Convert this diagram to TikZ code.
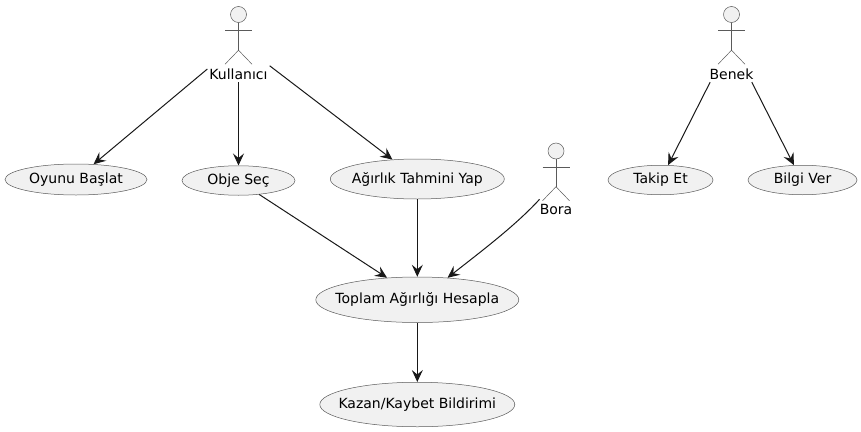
\documentclass[tikz,border=0pt]{standalone}
\usepackage{fontspec}
\setmainfont{DejaVu Sans}
\usetikzlibrary{shapes.geometric,arrows.meta}
\definecolor{fillc}{HTML}{F1F1F1}
\definecolor{linec}{HTML}{181818}
\definecolor{thinc}{HTML}{5A5A5A}
\tikzset{
  usecase/.style={ellipse,draw=thinc,fill=fillc,line width=0.5pt,inner xsep=-18pt,inner ysep=-3pt,font=\fontsize{14}{16}\selectfont,text=black},
  actorlabel/.style={inner sep=0pt,minimum height=16pt,font=\fontsize{14}{16}\selectfont,text=black,anchor=center},
  stick/.style={draw=thinc,line width=0.5pt},
  head/.style={circle,draw=thinc,fill=fillc,line width=0.5pt,minimum size=16pt,inner sep=0pt},
  flow/.style={draw=linec,line width=1pt,-{Stealth[length=12pt,width=11pt,inset=4.5pt]}}
}
\newcommand{\stickman}[3]{%
  \node[head] (#1h) at (#2,#3) {};
  \draw[stick] (#1h.south) -- ++(0,27.5) coordinate (#1hip);
  \draw[stick] ([xshift=-13.5pt,yshift=-7.5pt]#1h.south) -- ([xshift=13.5pt,yshift=-7.5pt]#1h.south);
  \draw[stick] ([xshift=-13.5pt,yshift=-14pt]#1hip) -- (#1hip) -- ([xshift=13.5pt,yshift=-14pt]#1hip);
}
\begin{document}
\begin{tikzpicture}[x=1pt,y=-1pt]
\useasboundingbox (0,0) rectangle (861,431);
\stickman{kul}{238.5}{14.5}
\stickman{bor}{556}{151}
\stickman{ben}{731.5}{14.5}
\node[actorlabel,minimum width=62pt] (kullanici) at (238.5,74) {Kullanıcı};
\node[actorlabel,minimum width=32pt,minimum height=20pt] (bora) at (556,209.5) {Bora};
\node[actorlabel,minimum width=44pt] (benek) at (731.5,74) {Benek};
\node[usecase,minimum width=142pt,minimum height=31pt] (oyun) at (76,179.5) {Oyunu Başlat};
\node[usecase,minimum width=113pt,minimum height=29.5pt] (obje) at (238.5,180.5) {Obje Seç};
\node[usecase,minimum width=174pt,minimum height=40pt] (agir) at (417.3,179) {Ağırlık Tahmini Yap};
\node[usecase,minimum width=203pt,minimum height=45.5pt] (toplam) at (417.3,299.75) {Toplam Ağırlığı Hesapla};
\node[usecase,minimum width=195pt,minimum height=44.5pt] (kazan) at (417.3,404.5) {Kazan/Kaybet Bildirimi};
\node[usecase,minimum width=105pt,minimum height=29.5pt] (takip) at (660.5,180) {Takip Et};
\node[usecase,minimum width=109pt,minimum height=29.5pt] (bilgi) at (802.5,180) {Bilgi Ver};
\draw[flow] (kullanici.171) -- (oyun.41);
\draw[flow] (kullanici.south) -- (obje.north);
\draw[flow] (kullanici.north east) -- (agir.142);
\draw[flow] (obje.-34) -- (toplam.144.5);
\draw[flow] (agir.south) -- (toplam.north);
\draw[flow] (bora.north west) .. controls (516,225) and (483,250) .. (toplam.36.7);
\draw[flow] (toplam.south) -- (kazan.north);
\draw[flow] (benek.201.8) -- (takip.63);
\draw[flow] (benek.338.2) -- (bilgi.120);
\end{tikzpicture}
\end{document}
